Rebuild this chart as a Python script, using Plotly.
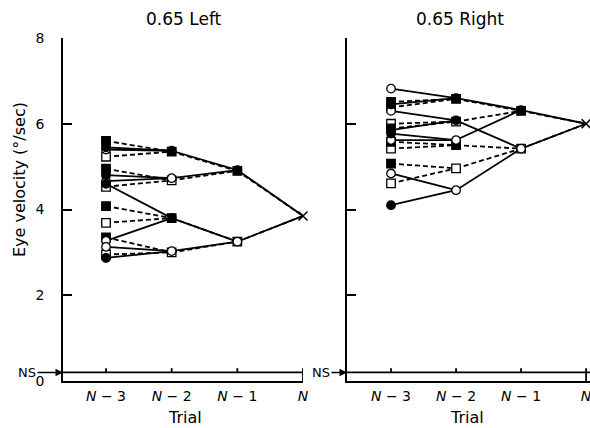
import plotly.graph_objects as go

# ---- data ---------------------------------------------------------------
TRIALS = ["<i>N</i> − 3", "<i>N</i> − 2", "<i>N</i> − 1", "<i>N</i>"]
TRIAL_POS = [0, 1, 2, 3]
Y_TICKS = [0, 2, 4, 6, 8]
Y_TICK_TEXT = ["0", "2", "4", "6", "8"]
NS_LEVEL = 0.2

# Each history is a binary tree: node i on one trial links to node i // 2 on
# the next trial; even index = filled symbol, odd index = open symbol.
# "solid" tree is drawn with circles, "dash" tree with squares.
LEFT_N = 3.85
LEFT_SOLID_N1 = [4.92, 3.25]
LEFT_SOLID_N2 = [5.37, 4.73, 3.80, 3.03]
LEFT_SOLID_N3 = [5.45, 5.40, 4.80, 4.66, 4.60, 3.27, 2.87, 3.13]
LEFT_DASH_N1 = [4.90, 3.25]
LEFT_DASH_N2 = [5.35, 4.68, 3.80, 3.00]
LEFT_DASH_N3 = [5.60, 5.23, 4.95, 4.53, 4.08, 3.69, 3.35, 2.95]

RIGHT_N = 6.0
RIGHT_SOLID_N1 = [6.32, 5.42]
RIGHT_SOLID_N2 = [6.60, 5.62, 6.08, 4.45]
RIGHT_SOLID_N3 = [6.45, 6.82, 5.77, 5.62, 5.85, 6.30, 4.10, 4.84]
RIGHT_DASH_N1 = [6.30, 5.42]
RIGHT_DASH_N2 = [6.58, 6.05, 5.50, 4.96]
RIGHT_DASH_N3 = [6.51, 6.38, 5.89, 6.00, 5.58, 5.42, 5.07, 4.61]

PANELS = [
    dict(title="0.65 Left", xa="x", ya="y", n=LEFT_N,
         solid=[LEFT_SOLID_N1, LEFT_SOLID_N2, LEFT_SOLID_N3],
         dash=[LEFT_DASH_N1, LEFT_DASH_N2, LEFT_DASH_N3]),
    dict(title="0.65 Right", xa="x2", ya="y2", n=RIGHT_N,
         solid=[RIGHT_SOLID_N1, RIGHT_SOLID_N2, RIGHT_SOLID_N3],
         dash=[RIGHT_DASH_N1, RIGHT_DASH_N2, RIGHT_DASH_N3]),
]

W, H = 590, 428
FONT = "DejaVu Sans"
LW = 1.8


def tree_segments(levels, n_value):
    """Line coordinates of a history tree, segments separated by None."""
    xs, ys = [], []
    parents = [n_value]
    for depth, values in enumerate(levels):
        x_here = TRIAL_POS[2 - depth]
        x_next = TRIAL_POS[3 - depth]
        for i, v in enumerate(values):
            p = parents[i // 2] if depth > 0 else parents[0]
            xs += [x_here, x_next, None]
            ys += [v, p, None]
        parents = values
    return xs, ys


def tree_points(levels, filled):
    xs, ys = [], []
    for depth, values in enumerate(levels):
        for i, v in enumerate(values):
            if (i % 2 == 0) == filled:
                xs.append(TRIAL_POS[2 - depth])
                ys.append(v)
    return xs, ys


fig = go.Figure()

for p in PANELS:
    for kind, dash in (("dash", "5px,3px"), ("solid", "solid")):
        xs, ys = tree_segments(p[kind], p["n"])
        fig.add_trace(go.Scatter(
            x=xs, y=ys, mode="lines", xaxis=p["xa"], yaxis=p["ya"],
            line=dict(color="black", width=LW, dash=dash),
            hoverinfo="skip", showlegend=False, cliponaxis=False))
    for kind, symbol in (("dash", "square"), ("solid", "circle")):
        for filled in (False, True):
            xs, ys = tree_points(p[kind], filled)
            fig.add_trace(go.Scatter(
                x=xs, y=ys, mode="markers", xaxis=p["xa"], yaxis=p["ya"],
                marker=dict(symbol=symbol, size=8.5,
                            color="black" if filled else "white",
                            line=dict(color="black", width=1.3)),
                showlegend=False, cliponaxis=False))
    fig.add_trace(go.Scatter(
        x=[TRIAL_POS[3]], y=[p["n"]], mode="markers",
        xaxis=p["xa"], yaxis=p["ya"],
        marker=dict(symbol="x-thin", size=9,
                    line=dict(color="black", width=1.5)),
        showlegend=False, cliponaxis=False))

ydom = [47 / H, 390 / H]
common_x = dict(tickvals=TRIAL_POS, ticktext=TRIALS, ticks="",
                showline=True, linecolor="black", linewidth=LW,
                showgrid=False, zeroline=False, ticklabelstandoff=1,
                automargin=False, ticklabeloverflow="allow",
                tickfont=dict(family=FONT, size=14, color="black"))
common_y = dict(range=[0, 8], domain=ydom, tickvals=Y_TICKS,
                ticktext=Y_TICK_TEXT, ticks="inside", ticklen=9,
                tickwidth=LW, tickcolor="black", showline=True,
                linecolor="black", linewidth=LW, showgrid=False,
                zeroline=False, automargin=False,
                tickfont=dict(family=FONT, size=14, color="black"))

fig.update_layout(
    width=W, height=H, margin=dict(l=0, r=0, t=0, b=0, pad=0),
    paper_bgcolor="white", plot_bgcolor="white",
    font=dict(family=FONT, color="black"),
    xaxis=dict(domain=[63 / W, 303 / W], range=[-0.655, 3.0],
               anchor="y", **common_x),
    yaxis=dict(anchor="x", ticklabelstandoff=14, **common_y),
    xaxis2=dict(domain=[347 / W, 1.0], range=[-0.677, 3.06],
                anchor="y2", **common_x),
    yaxis2=dict(anchor="x2", showticklabels=False, **common_y),
)

# "NS" baseline with its trial ticks in each panel
shapes = []
for xa, ya in (("x", "y"), ("x2", "y2")):
    shapes.append(dict(type="line", xref=f"{xa} domain", yref=ya,
                       x0=0, x1=1, y0=NS_LEVEL, y1=NS_LEVEL,
                       line=dict(color="black", width=LW)))
    for t in TRIAL_POS:
        shapes.append(dict(type="line", xref=xa, yref=ya, x0=t, x1=t,
                           y0=0 if t == TRIAL_POS[-1] else NS_LEVEL,
                           y1=NS_LEVEL + 0.1,
                           line=dict(color="black", width=LW)))
fig.update_layout(shapes=shapes)


def label(text, x, y, size, **kw):
    return dict(text=text, x=x / W, y=1 - y / H, xref="paper", yref="paper",
                xanchor="center", yanchor="middle", showarrow=False,
                font=dict(size=size), **kw)


annotations = [
    label("0.65 Left", 184, 19, 17),
    label("0.65 Right", 460, 19, 17),
    label("Trial", 185, 417, 16),
    label("Trial", 467, 417, 16),
    label("Eye velocity (°/sec)", 20, 180, 16, textangle=-90),
]
for xa, ya, ax in (("x", "y", -36), ("x2", "y2", -26)):
    annotations.append(dict(
        text="NS", x=0, y=NS_LEVEL, xref=f"{xa} domain", yref=ya,
        ax=ax, ay=0, showarrow=True, arrowhead=2, arrowsize=1,
        arrowwidth=1.5, arrowcolor="black", font=dict(size=13)))
fig.update_layout(annotations=annotations)

fig.write_html("out.html")
